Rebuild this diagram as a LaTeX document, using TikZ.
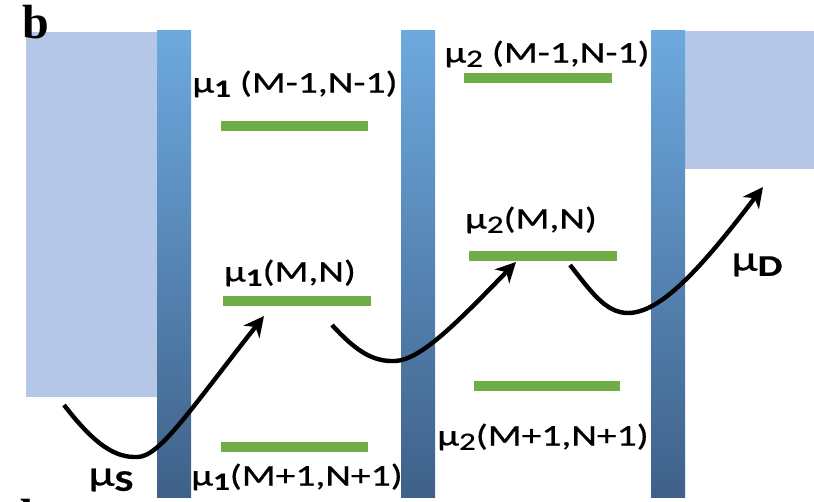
\documentclass[tikz,border=0pt]{standalone}
\usepackage{fontspec}
\setmainfont{Carlito}
\newfontfamily\widefont[FakeStretch=1.32,FakeBold=0.6]{Carlito}
\newfontfamily\panelfont{Liberation Serif}
\usetikzlibrary{arrows.meta}

\definecolor{leadblue}{HTML}{B4C7E7}
\definecolor{bartop}{HTML}{6DA9DF}
\definecolor{barbot}{HTML}{3F6189}
\definecolor{levelgreen}{HTML}{70AD47}

% chemical potential with lowered index
\newcommand{\chempot}[1]{μ\raisebox{-0.3ex}{\fontsize{25}{25}\selectfont #1}}

\begin{document}
\begin{tikzpicture}[x=1pt, y=-1pt,
    lead/.style={fill=leadblue, draw=none},
    barrier/.style={top color=bartop, bottom color=barbot, draw=none},
    level/.style={draw=levelgreen, line width=9.5pt},
    lab/.style={font=\widefont\fontsize{30}{36}\selectfont, inner sep=0pt},
    biglab/.style={font=\widefont\fontsize{36}{40}\selectfont, inner sep=0pt},
    hop/.style={-{Stealth[length=20pt,width=20pt,inset=6pt]}, line width=4.4pt, black}]
    \useasboundingbox (0,0) rectangle (814,502);

    % leads
    \fill[lead] (26,32) rectangle (157,397);
    \fill[lead] (684,31) rectangle (814,169);

    % tunnel barriers
    \foreach \x in {157,401,651} {
        \shade[barrier] (\x,31) rectangle ++(34,466);
    }

    % dot levels
    \foreach \xa/\xb/\y in {221/368/126, 223/371/301, 221/368/447,
                            464/612/78, 469/617/256, 474/620/386} {
        \draw[level] (\xa,\y) -- (\xb,\y);
    }

    \node[lab] (l1a) at (295,84) {\chempot{\textbf{1}} (M-1,N-1)};
    \node[lab] (l1b) at (290,273) {\chempot{\textbf{1}}(M,N)};
    \node[lab] (l1c) at (297,477) {\chempot{\textbf{1}}(M+1,N+1)};
    \node[lab] (l2a) at (547,54) {\chempot{2} (M-1,N-1)};
    \node[lab] (l2b) at (531,220) {\chempot{2}(M,N)};
    \node[lab] (l2c) at (543,437) {\chempot{2}(M+1,N+1)};
    \node[biglab] (muS) at (111,480) {μ\raisebox{-0.3ex}{\fontsize{30}{30}\selectfont\textbf{S}}};
    \node[biglab] (muD) at (757,265) {μ\raisebox{-0.3ex}{\fontsize{30}{30}\selectfont\textbf{D}}};

    \node[font=\panelfont\bfseries\fontsize{48}{48}\selectfont, inner sep=0pt, anchor=base west] (pb) at (22,39) {b};
    \node[font=\panelfont\bfseries\fontsize{48}{48}\selectfont, inner sep=0pt, anchor=base west] (pd) at (6,532) {d};

    % sequential tunnelling path
    \coordinate (a0) at (64,405);
    \coordinate (a1) at (264,316);
    \coordinate (b0) at (332,325);
    \coordinate (b1) at (516,262);
    \coordinate (c0) at (570,265);
    \coordinate (c1) at (763,187);

    \draw[hop] (a0) .. controls (95,445) and (115,458) .. (138,457) .. controls (160,456) and (190,410) .. (a1);
    \draw[hop] (b0) .. controls (355,350) and (372,362) .. (395,361) .. controls (420,360) and (455,325) .. (b1);
    \draw[hop] (c0) .. controls (590,290) and (605,313) .. (628,313) .. controls (660,313) and (700,270) .. (c1);
\end{tikzpicture}
\end{document}
